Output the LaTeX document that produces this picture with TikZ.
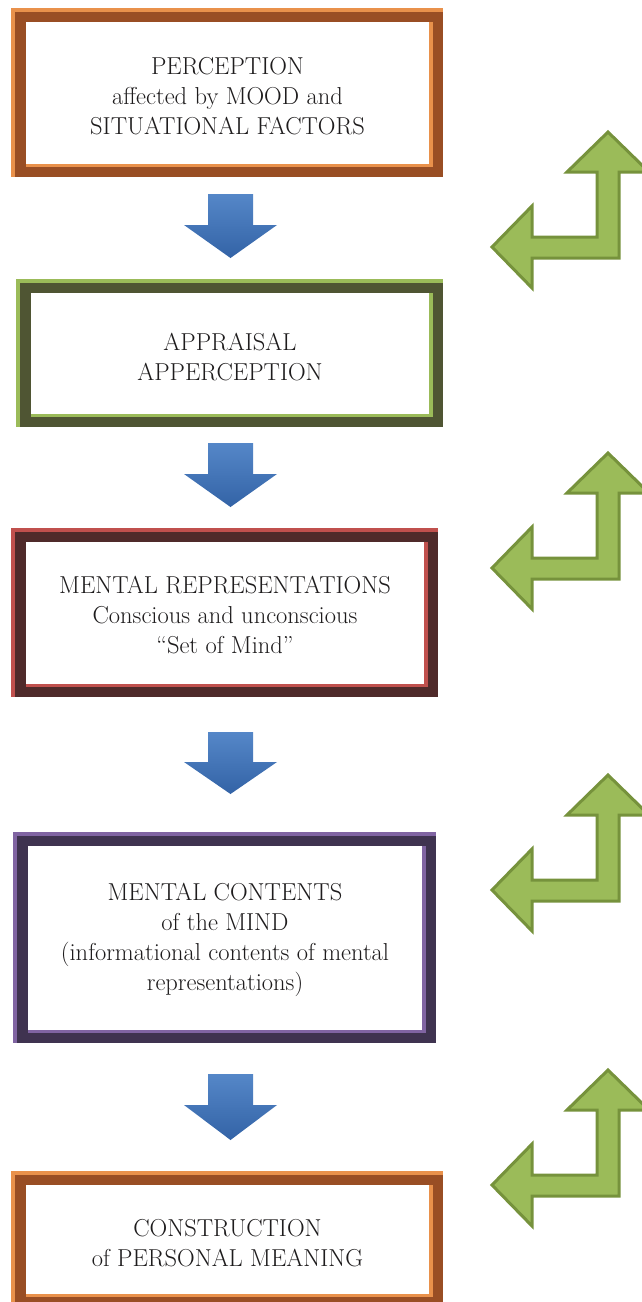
\documentclass[tikz,border=0pt]{standalone}
\usepackage{fontspec}
\usetikzlibrary{calc,backgrounds}
\definecolor{orL}{HTML}{E9914B}
\definecolor{orD}{HTML}{994E24}
\definecolor{grL}{HTML}{9BBB59}
\definecolor{grD}{HTML}{4F5533}
\definecolor{rdL}{HTML}{C0504D}
\definecolor{rdD}{HTML}{4F2A2A}
\definecolor{puL}{HTML}{8064A2}
\definecolor{puD}{HTML}{3F3350}
\definecolor{arrG}{HTML}{9BBB59}
\definecolor{arrGD}{HTML}{76923C}
\definecolor{bluT}{HTML}{5587C8}
\definecolor{bluB}{HTML}{3363A6}
\definecolor{txt}{HTML}{1E1C1D}
\newcommand\frameit[3]{%
  \fill[#2] ($(#1.north west)+(-15,-14)$) rectangle ($(#1.south east)+(14,13)$);
  \fill[#3] ($(#1.north west)+(-11,-10)$) rectangle ($(#1.south east)+(14,13)$);
  \fill[#2] (#1.north west) rectangle ($(#1.south east)+(4,3)$);
}
\newcommand\looparrow{%
  (608,132) -- (649,172) -- (619,172) -- (619,258) -- (532,258) -- (532,288) --
  (492,247) -- (532,206) -- (532,237) -- (597,237) -- (597,172) -- (567,172) -- cycle}
\begin{document}
\begin{tikzpicture}[x=1pt,y=-1pt,
  stagebox/.style={fill=white,inner sep=0pt,outer sep=0pt,anchor=north west},
  stagetext/.style={text=txt,align=center,font=\fontsize{24.5}{30}\selectfont,inner sep=0pt},
  loop/.style={fill=arrG,draw=arrGD,line width=3pt,line join=miter},
  flow/.style={top color=bluT,bottom color=bluB,draw=none}]
\useasboundingbox (0,0) rectangle (641,1302);

% stage boxes (white interiors)
\node[stagebox,minimum width=403,minimum height=142] (b1) at (26,22) {};
\node[stagebox,minimum width=398,minimum height=121] (b2) at (31,293) {};
\node[stagebox,minimum width=398,minimum height=142] (b3) at (26,542) {};
\node[stagebox,minimum width=394,minimum height=184] (b4) at (28,846) {};
\node[stagebox,minimum width=403,minimum height=109] (b5) at (26,1185) {};

\node[stagetext] (t1) at ($(b1.center)+(0,3.5)$) {PERCEPTION\\affected by MOOD and\\SITUATIONAL FACTORS};
\node[stagetext] (t2) at ($(b2.center)+(0,3.5)$) {APPRAISAL\\APPERCEPTION};
\node[stagetext] (t3) at ($(b3.center)+(0,2.5)$) {MENTAL REPRESENTATIONS\\Conscious and unconscious\\“Set of Mind”};
\node[stagetext] (t4) at ($(b4.center)+(0,2)$) {MENTAL CONTENTS\\of the MIND\\(informational contents of mental\\representations)};
\node[stagetext] (t5) at ($(b5.center)+(0,3.5)$) {CONSTRUCTION\\of PERSONAL MEANING};

\begin{scope}[on background layer]
  \frameit{b1}{orL}{orD}
  \frameit{b2}{grL}{grD}
  \frameit{b3}{rdL}{rdD}
  \frameit{b4}{puL}{puD}
  \frameit{b5}{orL}{orD}
\end{scope}

% blue flow arrows
\path[flow] (208,194) -- (253,194) -- (253,225) -- (277,225) -- (230.5,258) -- (184,225) -- (208,225) -- cycle;
\path[flow] (208,443) -- (253,443) -- (253,474) -- (277,474) -- (230.5,507) -- (184,474) -- (208,474) -- cycle;
\path[flow] (208,732) -- (253,732) -- (253,762) -- (277,762) -- (230.5,794) -- (184,762) -- (208,762) -- cycle;
\path[flow] (208,1074) -- (253,1074) -- (253,1105) -- (277,1105) -- (230.5,1140) -- (184,1105) -- (208,1105) -- cycle;

% green feedback arrows
\path[loop] \looparrow;
\begin{scope}[shift={(0,321)}]\path[loop] \looparrow;\end{scope}
\begin{scope}[shift={(0,643)}]\path[loop] \looparrow;\end{scope}
\begin{scope}[shift={(0,938)}]\path[loop] \looparrow;\end{scope}
\end{tikzpicture}
\end{document}
